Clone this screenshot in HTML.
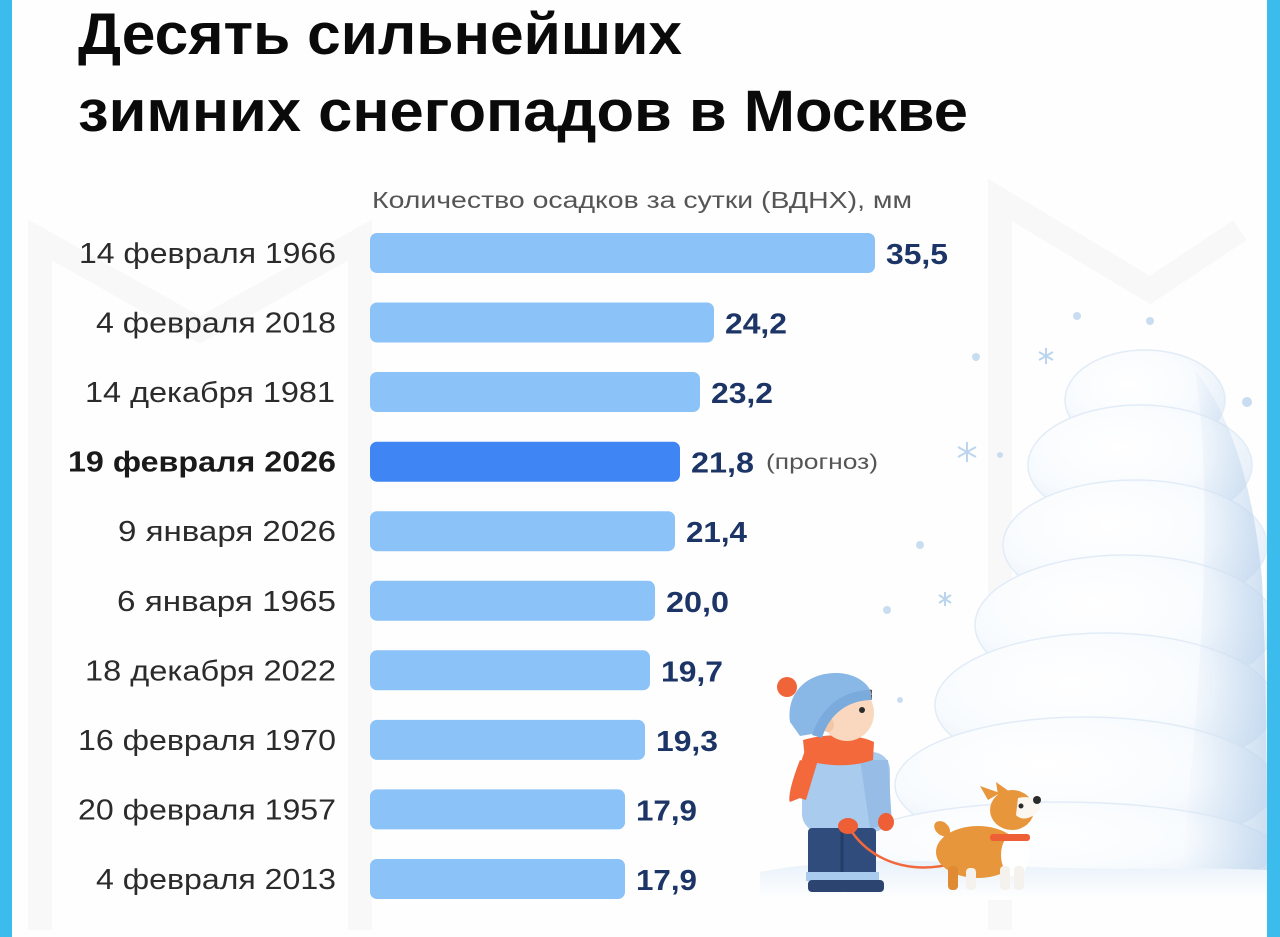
<!DOCTYPE html>
<html><head><meta charset="utf-8"><style>
html,body{margin:0;padding:0;background:#fff;}
svg{display:block;}
text{font-family:"Liberation Sans","DejaVu Sans",sans-serif;}
</style></head><body>
<svg width="1280" height="937" viewBox="0 0 1280 937" xmlns="http://www.w3.org/2000/svg">
<defs>
<radialGradient id="bump" cx="0.4" cy="0.35" r="0.7">
<stop offset="0" stop-color="#ffffff"/>
<stop offset="0.6" stop-color="#f8fbfe"/>
<stop offset="1" stop-color="#e2ecf7"/>
</radialGradient>
<linearGradient id="side" x1="0" y1="0" x2="1" y2="0">
<stop offset="0" stop-color="#c9dcf0" stop-opacity="0"/>
<stop offset="1" stop-color="#b9d2ec" stop-opacity="0.7"/>
</linearGradient>
<linearGradient id="ground" x1="0" y1="0" x2="0" y2="1">
<stop offset="0" stop-color="#e8f1fa"/>
<stop offset="1" stop-color="#ffffff"/>
</linearGradient>
<clipPath id="clipR"><rect x="0" y="0" width="1267" height="937"/></clipPath>
</defs>
<rect width="1280" height="937" fill="#fefefe"/>
<!-- faint watermark -->
<g fill="none" stroke="#f8f8f9" stroke-width="24">
<path d="M40 930 L40 240 L200 330 L360 240 L360 930"/>
<path d="M1000 930 L1000 200 L1150 290 L1240 230"/>
</g>

<!-- title -->
<text x="78" y="54" font-size="58" font-weight="700" fill="#0a0a0a" textLength="604" lengthAdjust="spacingAndGlyphs">Десять сильнейших</text>
<text x="78" y="131" font-size="58" font-weight="700" fill="#0a0a0a" textLength="890" lengthAdjust="spacingAndGlyphs">зимних снегопадов в Москве</text>

<!-- subtitle -->
<text x="372" y="208" font-size="23" fill="#555555" textLength="540" lengthAdjust="spacingAndGlyphs">Количество осадков за сутки (ВДНХ), мм</text>

<!-- snow mound -->
<g clip-path="url(#clipR)">
<g stroke="#e2ecf7" stroke-width="1.5">
<ellipse cx="1145" cy="400" rx="80" ry="50" fill="url(#bump)"/>
<ellipse cx="1140" cy="465" rx="112" ry="60" fill="url(#bump)"/>
<ellipse cx="1135" cy="545" rx="132" ry="65" fill="url(#bump)"/>
<ellipse cx="1125" cy="625" rx="150" ry="70" fill="url(#bump)"/>
<ellipse cx="1105" cy="705" rx="170" ry="72" fill="url(#bump)"/>
<ellipse cx="1085" cy="785" rx="190" ry="68" fill="url(#bump)"/>
<ellipse cx="1060" cy="850" rx="215" ry="48" fill="url(#bump)"/>
</g>
<path d="M1195 370 C1235 420 1255 500 1262 580 C1266 660 1267 760 1267 880 L1180 880 C1200 700 1215 500 1195 370 Z" fill="url(#side)"/>
</g>
<path d="M760 872 C820 860 900 858 980 864 C1080 872 1180 866 1267 870 L1267 900 L760 900 Z" fill="url(#ground)"/>

<!-- snowflakes -->
<g fill="#c9ddf0">
<circle cx="976" cy="357" r="4"/><circle cx="1077" cy="316" r="4"/><circle cx="1150" cy="321" r="4"/>
<circle cx="1247" cy="402" r="5"/><circle cx="920" cy="545" r="4"/><circle cx="887" cy="610" r="4"/>
<circle cx="1000" cy="455" r="3"/><circle cx="900" cy="700" r="3"/>
</g>
<g stroke="#bcd5ee" stroke-width="2">
<path d="M1046 348 L1046 364 M1039 352 L1053 360 M1039 360 L1053 352"/>
<path d="M967 442 L967 462 M958 447 L976 457 M958 457 L976 447"/>
<path d="M945 592 L945 606 M939 595 L951 603 M939 603 L951 595"/>
</g>

<!-- child -->
<g>
<path d="M800 760 C790 785 788 800 790 802 L800 798 L812 765 Z" fill="#f1683c"/>
<rect x="802" y="752" width="88" height="80" rx="18" fill="#a8cbee"/>
<path d="M860 760 L888 760 L892 825 L870 828 Z" fill="#97bde6"/>
<rect x="808" y="828" width="68" height="48" rx="4" fill="#2f4c7d"/>
<line x1="842" y1="832" x2="842" y2="876" stroke="#243d68" stroke-width="3"/>
<rect x="806" y="872" width="38" height="9" fill="#a8cbee"/>
<rect x="843" y="872" width="36" height="9" fill="#a8cbee"/>
<rect x="808" y="880" width="40" height="12" rx="4" fill="#2b4570"/>
<rect x="842" y="880" width="42" height="12" rx="4" fill="#2b4570"/>
<ellipse cx="848" cy="826" rx="10" ry="8" fill="#ee5f36"/>
<ellipse cx="886" cy="822" rx="8" ry="9" fill="#ee5f36"/>
<path d="M803 740 C830 732 860 735 874 742 L873 760 C850 768 825 766 805 760 Z" fill="#f3693c"/>
<path d="M805 750 L790 795 L806 800 L818 760 Z" fill="#f3693c"/>
<ellipse cx="847" cy="713" rx="27" ry="28" fill="#f9d8bf"/>
<path d="M822 705 C828 688 850 683 872 690 L872 700 C860 697 840 700 830 712 Z" fill="#6b4326"/>
<circle cx="862" cy="710" r="3" fill="#2b2b2b"/>
<ellipse cx="828" cy="725" rx="6" ry="7" fill="#f3c7a6"/>
<path d="M790 722 C786 690 810 672 838 673 C858 674 870 685 872 695 C850 695 830 705 818 733 L800 736 Z" fill="#8ab8e6"/>
<path d="M812 735 C822 705 845 690 870 690 L872 700 C850 700 830 712 822 738 Z" fill="#7aabdc"/>
<circle cx="787" cy="687" r="10" fill="#f0643a"/>
</g>

<!-- leash -->
<path d="M852 832 C880 872 940 882 1000 842" fill="none" stroke="#f0683c" stroke-width="2.5"/>

<!-- dog -->
<g>
<path d="M940 835 C930 828 934 818 944 822 C950 826 952 832 948 838 Z" fill="#e8963c"/>
<ellipse cx="978" cy="852" rx="42" ry="26" fill="#e8963c"/>
<ellipse cx="1015" cy="855" rx="14" ry="22" fill="#ffffff"/>
<rect x="948" y="866" width="10" height="24" rx="4" fill="#e08a34"/>
<rect x="966" y="868" width="10" height="22" rx="4" fill="#f5f1ec"/>
<rect x="1000" y="866" width="10" height="24" rx="4" fill="#f5f1ec"/>
<rect x="1014" y="866" width="10" height="24" rx="4" fill="#f5f1ec"/>
<ellipse cx="1012" cy="810" rx="22" ry="20" fill="#e8963c"/>
<path d="M1018 798 C1030 795 1040 800 1040 808 C1035 818 1022 822 1016 815 Z" fill="#fbf6ef"/>
<path d="M988 800 L980 786 L1000 793 Z" fill="#e8963c"/>
<path d="M998 795 L996 782 L1010 792 Z" fill="#e8963c"/>
<circle cx="1037" cy="800" r="4" fill="#2b2b2b"/>
<circle cx="1021" cy="806" r="2.5" fill="#2b2b2b"/>
<rect x="990" y="834" width="40" height="7" rx="3" fill="#ee5f36"/>
</g>

<!-- borders -->
<rect x="0" y="0" width="12" height="937" fill="#3bbcec"/>
<rect x="1267" y="0" width="13" height="937" fill="#3bbcec"/>

<!-- bars -->
<g>
<rect x="370" y="233" width="505" height="40" rx="7" fill="#8bc3f8"/>
<rect x="370" y="302.5" width="344" height="40" rx="7" fill="#8bc3f8"/>
<rect x="370" y="372" width="330" height="40" rx="7" fill="#8bc3f8"/>
<rect x="370" y="441.7" width="310" height="40" rx="7" fill="#3f86f4"/>
<rect x="370" y="511.2" width="305" height="40" rx="7" fill="#8bc3f8"/>
<rect x="370" y="580.8" width="285" height="40" rx="7" fill="#8bc3f8"/>
<rect x="370" y="650.3" width="280" height="40" rx="7" fill="#8bc3f8"/>
<rect x="370" y="719.9" width="275" height="40" rx="7" fill="#8bc3f8"/>
<rect x="370" y="789.4" width="255" height="40" rx="7" fill="#8bc3f8"/>
<rect x="370" y="859" width="255" height="40" rx="7" fill="#8bc3f8"/>
</g>

<!-- labels -->
<g font-size="29" fill="#2b2b2b">
<text x="79" y="263" textLength="257" lengthAdjust="spacingAndGlyphs">14 февраля 1966</text>
<text x="96" y="332.5" textLength="240" lengthAdjust="spacingAndGlyphs">4 февраля 2018</text>
<text x="85" y="402" textLength="250" lengthAdjust="spacingAndGlyphs">14 декабря 1981</text>
<text x="68" y="471.7" textLength="268" lengthAdjust="spacingAndGlyphs" font-weight="700" fill="#1a1a1a">19 февраля 2026</text>
<text x="118" y="541.2" textLength="218" lengthAdjust="spacingAndGlyphs">9 января 2026</text>
<text x="117" y="610.8" textLength="219" lengthAdjust="spacingAndGlyphs">6 января 1965</text>
<text x="85" y="680.3" textLength="251" lengthAdjust="spacingAndGlyphs">18 декабря 2022</text>
<text x="78" y="749.9" textLength="258" lengthAdjust="spacingAndGlyphs">16 февраля 1970</text>
<text x="78" y="819.4" textLength="258" lengthAdjust="spacingAndGlyphs">20 февраля 1957</text>
<text x="96" y="889" textLength="240" lengthAdjust="spacingAndGlyphs">4 февраля 2013</text>
</g>

<!-- values -->
<g font-size="29" font-weight="700" fill="#1c3566">
<text x="886" y="264" textLength="62" lengthAdjust="spacingAndGlyphs">35,5</text>
<text x="725" y="333.5" textLength="62" lengthAdjust="spacingAndGlyphs">24,2</text>
<text x="711" y="403" textLength="62" lengthAdjust="spacingAndGlyphs">23,2</text>
<text x="691" y="472.7" textLength="63" lengthAdjust="spacingAndGlyphs">21,8</text>
<text x="686" y="542.2" textLength="61" lengthAdjust="spacingAndGlyphs">21,4</text>
<text x="666" y="611.8" textLength="63" lengthAdjust="spacingAndGlyphs">20,0</text>
<text x="661" y="681.3" textLength="62" lengthAdjust="spacingAndGlyphs">19,7</text>
<text x="656" y="750.9" textLength="62" lengthAdjust="spacingAndGlyphs">19,3</text>
<text x="636" y="820.4" textLength="61" lengthAdjust="spacingAndGlyphs">17,9</text>
<text x="636" y="890" textLength="61" lengthAdjust="spacingAndGlyphs">17,9</text>
</g>
<text x="766" y="469" font-size="21" fill="#555555" textLength="112" lengthAdjust="spacingAndGlyphs">(прогноз)</text>
</svg>
</body></html>
